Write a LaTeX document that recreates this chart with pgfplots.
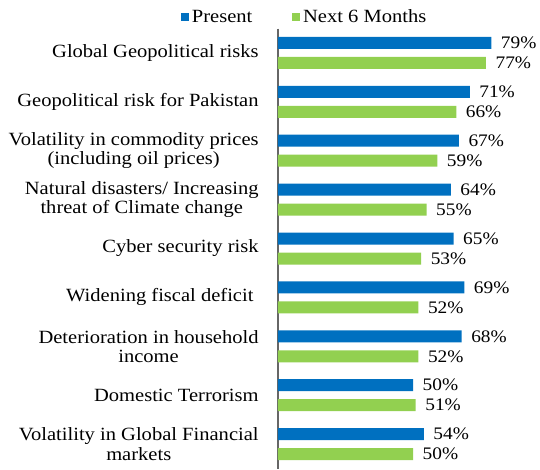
\documentclass[border=0pt]{standalone}
\usepackage{pgfplots}
\pgfplotsset{compat=1.18}
\usepackage{fontspec}
\setmainfont{Liberation Serif}[FakeStretch=1.1]
\definecolor{cblue}{HTML}{0070C0}
\definecolor{cgreen}{HTML}{92D050}
\begin{document}
\begin{tikzpicture}
\begin{axis}[
  scale only axis,
  width=196.5pt, height=330pt,
  xbar, bar width=9pt,
  xmin=0, xmax=97,
  ymin=-0.5, ymax=8.5,
  y dir=reverse,
  axis x line=none,
  axis y line*=left,
  y axis line style={draw=gray!80!black, line width=1pt},
  ytick={0,...,8},
  major tick length=0pt,
  yticklabels={
    Global Geopolitical risks,
    Geopolitical risk for Pakistan,
    {Volatility in commodity prices\\(including oil prices)},
    {Natural disasters/ Increasing\\threat of Climate change},
    Cyber security risk,
    Widening fiscal deficit\ ,
    {Deterioration in household\\income},
    Domestic Terrorism,
    {Volatility in Global Financial\\markets}},
  yticklabel style={align=center, font=\fontsize{14}{14.5}\selectfont, xshift=-11pt},
  nodes near coords={\pgfmathprintnumber[assume math mode=true]{\pgfplotspointmeta}\%},
  point meta=x,
  every node near coord/.append style={font=\fontsize{13.2}{13}\selectfont, xshift=6pt, anchor=west, inner sep=1pt},
  legend style={at={(-0.37,1.026)}, anchor=west, draw=none, fill=none,
     font=\fontsize{14}{14}\selectfont, inner sep=0pt,
     /tikz/every even column/.append style={column sep=28pt}},
  legend columns=2,
  legend image code/.code={\fill[#1] (0pt,-3pt) rectangle (6pt,3pt);},
  clip=false,
]
\addplot[fill=cblue, draw=none, bar shift=7.5pt] coordinates {
 (79,0) (71,1) (67,2) (64,3) (65,4) (69,5) (68,6) (50,7) (54,8)};
\addlegendentry{Present}
\addplot[fill=cgreen, draw=none, bar shift=-7.5pt] coordinates {
 (77,0) (66,1) (59,2) (55,3) (53,4) (52,5) (52,6) (51,7) (50,8)};
\addlegendentry{Next 6 Months}
\end{axis}
\pgfresetboundingbox
\useasboundingbox (-208.5pt,-0.375pt) rectangle (196.5pt,351.375pt);
\end{tikzpicture}
\end{document}
